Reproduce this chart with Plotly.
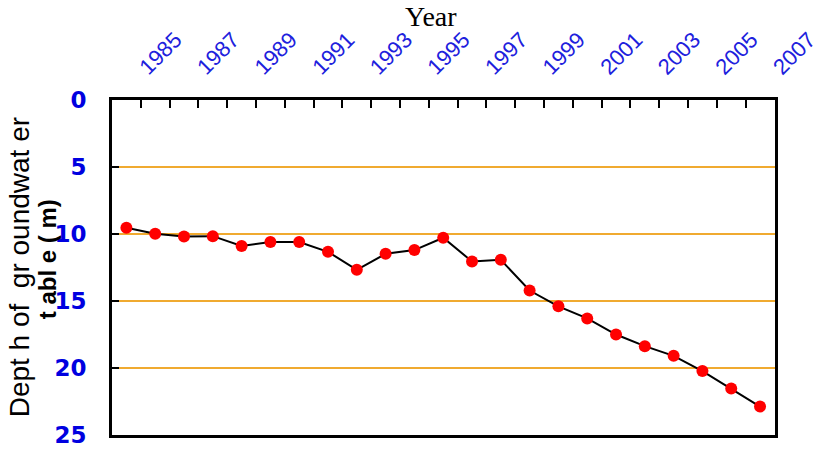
import plotly.graph_objects as go

# Data
years = list(range(1984, 2007))
depth = [9.53, 9.98, 10.18, 10.16, 10.9, 10.6, 10.6, 11.33, 12.67, 11.48, 11.2,
         10.28, 12.05, 11.93, 14.22, 15.4, 16.3, 17.5, 18.37, 19.09, 20.23, 21.53, 22.88]

tick_years = list(range(1985, 2008))
tick_labels = [str(y) if y % 2 == 1 else "" for y in tick_years]
y_ticks = [0, 5, 10, 15, 20, 25]

# points sit at the centre of each year interval
x_pos = [y + 0.5 for y in years]

fig = go.Figure()
fig.add_trace(go.Scatter(
    x=x_pos, y=depth, mode="lines+markers",
    line=dict(color="black", width=2),
    marker=dict(color="#ff0000", size=12),
    showlegend=False,
))

fig.update_layout(
    width=814, height=452,
    margin=dict(l=112, r=39, t=100, b=17),
    paper_bgcolor="white", plot_bgcolor="white",
    xaxis=dict(
        side="top", range=[1984, 2007.02], automargin=False,
        tickmode="array", tickvals=tick_years, ticktext=tick_labels,
        tickangle=-45, ticks="inside", ticklen=8, tickwidth=2, tickcolor="black",
        tickfont=dict(family="Liberation Sans, Arial", size=22, color="#2020dd"),
        ticklabelstandoff=9, ticklabeloverflow="allow",
        showline=True, linecolor="black", linewidth=3, mirror=True,
        showgrid=False, zeroline=False,
    ),
    yaxis=dict(
        range=[25, 0], tickmode="array", tickvals=y_ticks, automargin=False,
        ticks="inside", ticklen=7, tickwidth=2, tickcolor="black",
        tickfont=dict(family="DejaVu Sans", size=23, color="#0000e0", weight="bold"),
        ticklabelstandoff=18,
        showline=True, linecolor="black", linewidth=3, mirror=True,
        showgrid=True, gridcolor="#f0aa30", gridwidth=2, zeroline=False,
    ),
    annotations=[
        dict(text="Year", xref="paper", yref="paper", x=0.481, y=1.248,
             xanchor="center", yanchor="middle", showarrow=False,
             font=dict(family="Liberation Serif, Times New Roman", size=28, color="black")),
        dict(text="Dept h of  gr oundwat er", xref="paper", yref="paper",
             x=-0.139, y=0.50, xanchor="center", yanchor="middle", textangle=-90,
             showarrow=False,
             font=dict(family="Liberation Sans, Arial", size=28, color="black")),
        dict(text="<b>t abl e ( m)</b>", xref="paper", yref="paper",
             x=-0.098, y=0.525, xanchor="center", yanchor="middle", textangle=-90,
             showarrow=False,
             font=dict(family="Liberation Sans, Arial", size=24, color="black")),
    ],
)

fig.write_html("out.html", config={"displayModeBar": False},
               post_script="document.body.style.margin='0';")
